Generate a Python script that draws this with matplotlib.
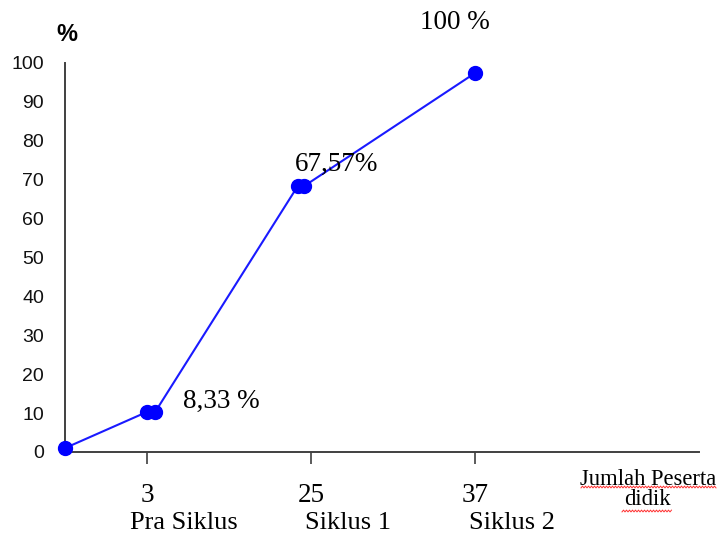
import numpy as np
import matplotlib
matplotlib.use("Agg")
import matplotlib.pyplot as plt

# data (x in axis units, ticks at 0.5 / 1.5 / 2.5)
x = [0, 0.5, 0.55, 1.42, 1.46, 2.5]
y = [1, 10.3, 10.3, 68.4, 68.4, 97.4]
tick_pos = [0.5, 1.5, 2.5]
tick_num = ['3', '25', '37']
tick_cat = ['Pra Siklus', 'Siklus 1', 'Siklus 2']
notes = ['8,33 %', '67,57%', '100 %']
note_xy = [(0.955, 13.0), (1.655, 74.0), (2.38, 110.3)]

serif = ['Liberation Serif', 'DejaVu Serif']
sans = ['Liberation Sans', 'DejaVu Sans']

fig = plt.figure(figsize=(7.19, 5.34), dpi=100)
ax = fig.add_axes([0.0904, 0.1536, 0.8818, 0.7285])

ax.plot(x, y, color='#1a1aff', lw=1.5, marker='o', ms=10,
        markeredgecolor='#0000ff', markerfacecolor='#0000ff', clip_on=False, zorder=3)

ax.set_xlim(0, 3.866)
ax.set_ylim(0, 100)
for s in ['top', 'right']:
    ax.spines[s].set_visible(False)
for s in ['left', 'bottom']:
    ax.spines[s].set_color('#404040')
    ax.spines[s].set_linewidth(1.4)

ax.set_yticks(np.arange(0, 101, 10))
ax.tick_params(axis='y', length=0, pad=15, labelsize=14, labelcolor='#111111')
for t in ax.get_yticklabels():
    t.set_family(sans)

ax.set_xticks(tick_pos)
ax.set_xticklabels(tick_num, family=serif, fontsize=19.5)
ax.tick_params(axis='x', length=8.5, width=1.2, color='#404040', direction='out', pad=14)

for p, c in zip(tick_pos, tick_cat):
    ax.text(p + 0.225, -18.2, c, family=serif, fontsize=19, ha='center', va='center')

for (tx, ty), n in zip(note_xy, notes):
    ax.text(tx, ty, n, family=serif, fontsize=19.5, ha='center', va='center')

ax.text(0.01, 107.3, '%', family=sans, fontsize=17, fontweight='bold', ha='center', va='center')

fig.text(0.901, 0.0835, 'Jumlah Peserta\ndidik', family=serif, fontsize=16.3,
         ha='center', va='center', linespacing=0.95)

# spell-check squiggle under the label
def squiggle(x0, x1, yy):
    xs = np.arange(x0, x1, 1.5)
    ys = yy + np.where(np.arange(len(xs)) % 2 == 0, 0.9, -0.9)
    fig.add_artist(plt.Line2D(xs / 719, 1 - ys / 534, color='#ff3030', lw=0.7))

squiggle(581, 717, 487)
squiggle(622, 672, 511)

fig.savefig('out.png', dpi=100)
